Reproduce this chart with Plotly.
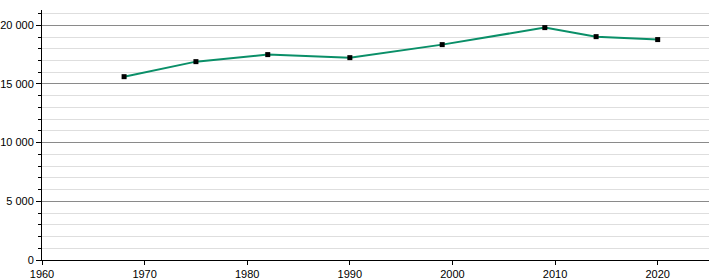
import plotly.graph_objects as go

years = [1968, 1975, 1982, 1990, 1999, 2009, 2014, 2020]
population = [15620, 16900, 17500, 17240, 18350, 19800, 19030, 18780]

fig = go.Figure()
fig.add_trace(go.Scatter(
    x=years, y=population, mode="lines+markers",
    line=dict(color="#0a8f68", width=2),
    marker=dict(symbol="square", size=5, color="black"),
    showlegend=False, hoverinfo="x+y",
))

fig.update_layout(
    width=720, height=280,
    margin=dict(l=42, r=11, t=10, b=20, autoexpand=False),
    plot_bgcolor="white", paper_bgcolor="white",
    separators=". ",
    font=dict(family="Liberation Sans, Arial, sans-serif", size=11, color="black"),
    xaxis=dict(
        range=[1960, 2025], tickmode="linear", tick0=1960, dtick=10,
        showgrid=False, zeroline=False, automargin=False,
        showline=True, linecolor="black", linewidth=1,
        ticks="outside", ticklen=4, tickcolor="black",
        tickfont=dict(size=11),
    ),
    yaxis=dict(
        range=[0, 21300], tickmode="linear", tick0=0, dtick=5000,
        tickformat=",d", automargin=False,
        showgrid=True, gridcolor="#8a8a8a", gridwidth=1,
        zeroline=False,
        showline=True, linecolor="black", linewidth=1,
        ticks="outside", ticklen=5, tickcolor="black",
        tickfont=dict(size=11),
        minor=dict(dtick=1000, showgrid=True, gridcolor="#dedede", gridwidth=1,
                   ticks="outside", ticklen=3, tickcolor="black"),
    ),
)

fig.write_html("out.html")
